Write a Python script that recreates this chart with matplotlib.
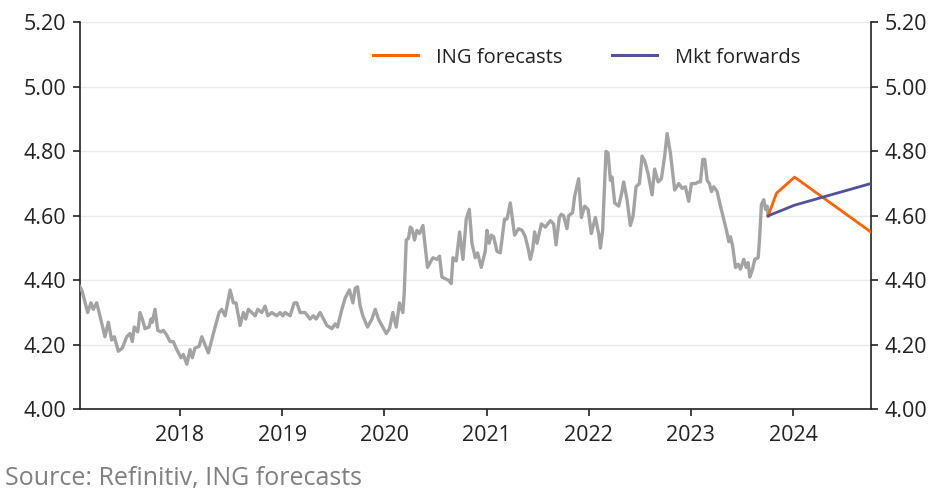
import matplotlib
matplotlib.use("Agg")
import matplotlib.pyplot as plt

plt.rcParams['font.family'] = ['Open Sans', 'DejaVu Sans']

# Historical series (x in decimal years)
hist_t = [
    2017.021, 2017.043, 2017.096, 2017.128, 2017.151, 2017.184, 2017.216, 2017.265, 2017.298, 2017.331,
    2017.357, 2017.396, 2017.435, 2017.478, 2017.510, 2017.533, 2017.552, 2017.586, 2017.608, 2017.631,
    2017.657, 2017.696, 2017.716, 2017.729, 2017.755, 2017.782, 2017.814, 2017.836, 2017.870, 2017.902,
    2017.934, 2017.968, 2018.010, 2018.032, 2018.066, 2018.098, 2018.120, 2018.147, 2018.186, 2018.213,
    2018.245, 2018.277, 2018.310, 2018.343, 2018.382, 2018.408, 2018.441, 2018.490, 2018.522, 2018.548,
    2018.588, 2018.620, 2018.643, 2018.669, 2018.702, 2018.735, 2018.761, 2018.800, 2018.833, 2018.859,
    2018.898, 2018.947, 2018.979, 2019.006, 2019.028, 2019.077, 2019.117, 2019.143, 2019.175, 2019.224,
    2019.247, 2019.273, 2019.306, 2019.332, 2019.371, 2019.404, 2019.437, 2019.486, 2019.518, 2019.541,
    2019.584, 2019.616, 2019.658, 2019.692, 2019.714, 2019.737, 2019.763, 2019.789, 2019.835, 2019.878,
    2019.910, 2019.942, 2019.976, 2020.018, 2020.050, 2020.083, 2020.116, 2020.148, 2020.181, 2020.194,
    2020.214, 2020.236, 2020.253, 2020.269, 2020.295, 2020.318, 2020.344, 2020.377, 2020.400, 2020.422,
    2020.449, 2020.475, 2020.514, 2020.540, 2020.563, 2020.596, 2020.628, 2020.654, 2020.671, 2020.703,
    2020.736, 2020.769, 2020.801, 2020.831, 2020.857, 2020.889, 2020.912, 2020.948, 2020.987, 2021.004,
    2021.026, 2021.046, 2021.069, 2021.102, 2021.134, 2021.176, 2021.200, 2021.232, 2021.274, 2021.313,
    2021.347, 2021.379, 2021.406, 2021.428, 2021.451, 2021.470, 2021.494, 2021.536, 2021.575, 2021.624,
    2021.656, 2021.680, 2021.712, 2021.732, 2021.754, 2021.787, 2021.803, 2021.842, 2021.862, 2021.901,
    2021.928, 2021.960, 2021.993, 2022.025, 2022.065, 2022.097, 2022.114, 2022.136, 2022.169, 2022.189,
    2022.212, 2022.228, 2022.254, 2022.293, 2022.319, 2022.342, 2022.375, 2022.407, 2022.434, 2022.463,
    2022.496, 2022.522, 2022.548, 2022.581, 2022.620, 2022.645, 2022.679, 2022.711, 2022.743, 2022.767,
    2022.799, 2022.841, 2022.881, 2022.914, 2022.946, 2022.978, 2023.005, 2023.044, 2023.071, 2023.093,
    2023.116, 2023.135, 2023.159, 2023.181, 2023.201, 2023.223, 2023.257, 2023.289, 2023.321, 2023.355,
    2023.370, 2023.387, 2023.409, 2023.436, 2023.462, 2023.485, 2023.517, 2023.541, 2023.560, 2023.576,
    2023.599, 2023.625, 2023.658, 2023.671, 2023.690, 2023.713, 2023.730, 2023.746, 2023.756,
]
hist_v = [
    4.38, 4.365, 4.30, 4.33, 4.31, 4.33, 4.29, 4.225, 4.27, 4.215,
    4.225, 4.18, 4.19, 4.225, 4.235, 4.21, 4.255, 4.24, 4.30, 4.28,
    4.25, 4.255, 4.28, 4.27, 4.31, 4.245, 4.24, 4.245, 4.23, 4.21,
    4.21, 4.185, 4.16, 4.17, 4.14, 4.185, 4.16, 4.19, 4.195, 4.225,
    4.20, 4.175, 4.215, 4.255, 4.30, 4.31, 4.29, 4.37, 4.33, 4.33,
    4.26, 4.30, 4.28, 4.31, 4.30, 4.29, 4.31, 4.30, 4.32, 4.29,
    4.30, 4.29, 4.30, 4.29, 4.30, 4.29, 4.33, 4.33, 4.30, 4.30,
    4.29, 4.28, 4.29, 4.28, 4.30, 4.28, 4.26, 4.25, 4.265, 4.255,
    4.31, 4.345, 4.37, 4.33, 4.375, 4.38, 4.32, 4.29, 4.255, 4.28,
    4.31, 4.28, 4.26, 4.235, 4.25, 4.30, 4.255, 4.33, 4.30, 4.36,
    4.525, 4.53, 4.565, 4.56, 4.525, 4.555, 4.545, 4.57, 4.505, 4.44,
    4.455, 4.47, 4.465, 4.475, 4.41, 4.405, 4.40, 4.39, 4.47, 4.46,
    4.55, 4.465, 4.59, 4.62, 4.515, 4.47, 4.485, 4.44, 4.49, 4.555,
    4.515, 4.54, 4.535, 4.49, 4.485, 4.59, 4.59, 4.64, 4.54, 4.56,
    4.555, 4.535, 4.50, 4.465, 4.495, 4.55, 4.515, 4.575, 4.565, 4.585,
    4.575, 4.51, 4.595, 4.605, 4.60, 4.56, 4.60, 4.61, 4.66, 4.715,
    4.595, 4.63, 4.62, 4.545, 4.595, 4.545, 4.50, 4.555, 4.80, 4.795,
    4.71, 4.72, 4.64, 4.63, 4.665, 4.705, 4.65, 4.57, 4.60, 4.69,
    4.70, 4.785, 4.77, 4.73, 4.665, 4.745, 4.705, 4.715, 4.785, 4.855,
    4.795, 4.68, 4.70, 4.685, 4.69, 4.645, 4.70, 4.70, 4.705, 4.705,
    4.775, 4.775, 4.71, 4.70, 4.675, 4.69, 4.675, 4.63, 4.59, 4.545,
    4.52, 4.535, 4.505, 4.44, 4.45, 4.435, 4.465, 4.44, 4.455, 4.41,
    4.43, 4.465, 4.47, 4.525, 4.635, 4.65, 4.62, 4.63, 4.60,
]

# Forecasts
ing_t = [2023.756, 2023.837, 2024.014, 2024.76]
ing_v = [4.60, 4.67, 4.72, 4.55]
fwd_t = [2023.756, 2024.014, 2024.76]
fwd_v = [4.60, 4.633, 4.70]

year_ticks = [2018, 2019, 2020, 2021, 2022, 2023, 2024]
y_ticks = [4.00, 4.20, 4.40, 4.60, 4.80, 5.00, 5.20]

GRAY = '#a3a3a3'
ORANGE = '#ff6200'
INDIGO = '#525199'
FS = 15.5
LFS = 14.5

fig = plt.figure(figsize=(9.38, 4.96), dpi=100)
ax = fig.add_axes([0.0853, 0.1748, 0.8430, 0.7802])

ax.plot(hist_t, hist_v, color=GRAY, lw=2.4, solid_joinstyle='round', zorder=3)
ax.plot(ing_t, ing_v, color=ORANGE, lw=2.0, label='ING forecasts', zorder=4)
ax.plot(fwd_t, fwd_v, color=INDIGO, lw=2.0, label='Mkt forwards', zorder=4)

ax.set_xlim(hist_t[0], ing_t[-1])
ax.set_ylim(4.0, 5.2)
ax.set_xticks(year_ticks)
ax.set_xticklabels([str(y) for y in year_ticks])
ax.set_yticks(y_ticks)
ax.set_yticklabels([f"{v:.2f}" for v in y_ticks])

ax.grid(axis='y', color='#ebebeb', lw=1.0, zorder=0)
ax.set_axisbelow(True)

for s in ['left', 'right', 'bottom']:
    ax.spines[s].set_color('#222222')
    ax.spines[s].set_linewidth(1.2)
ax.spines['top'].set_visible(False)

ax.tick_params(axis='both', direction='out', length=5, width=1.2, color='#222222',
               labelsize=FS, labelcolor='#222222')
ax.tick_params(axis='y', left=True, right=True, labelleft=True, labelright=True, pad=5)
ax.tick_params(axis='x', pad=6)

leg = ax.legend(loc='center right', bbox_to_anchor=(0.911, 0.909), ncol=2, frameon=False,
                fontsize=LFS, handlelength=2.24, handletextpad=0.9, columnspacing=2.45,
                borderpad=0, borderaxespad=0)
for t in leg.get_texts():
    t.set_color('#222222')
for h in leg.get_lines():
    h.set_linewidth(2.2)

fig.text(0.005, 0.035, 'Source: Refinitiv, ING forecasts', fontsize=18, color='#808080',
         ha='left', va='center')

fig.savefig('out.png', dpi=100)
